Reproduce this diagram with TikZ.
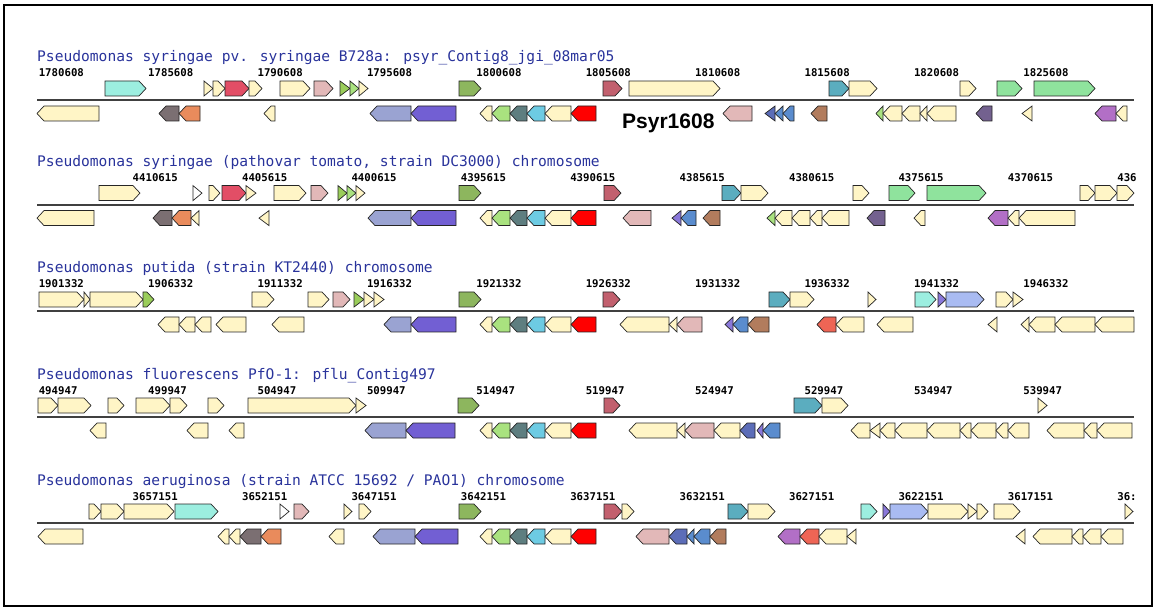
\documentclass[tikz,border=0pt]{standalone}
\usepackage{fontspec}
\usepackage{tikz}
\newfontfamily\monofont{DejaVu Sans Mono}
\newfontfamily\labelfont{Liberation Sans}
\newcommand{\trackfont}{\monofont\fontsize{14.6}{16}\selectfont}
\newcommand{\coordfont}{\monofont\bfseries\fontsize{10.7}{12}\selectfont}
\definecolor{titleblue}{HTML}{29339B}
\definecolor{cream}{HTML}{FFF5C6}
\definecolor{aqua}{HTML}{9CEEE0}
\definecolor{crimson}{HTML}{E24E66}
\definecolor{pinklt}{HTML}{E2B8B8}
\definecolor{green}{HTML}{9ACD5A}
\definecolor{lgreen}{HTML}{A9E27F}
\definecolor{olive}{HTML}{8DB65E}
\definecolor{rose}{HTML}{C2606E}
\definecolor{graybrown}{HTML}{7B6F72}
\definecolor{orange}{HTML}{E98B5C}
\definecolor{periw}{HTML}{9AA3D2}
\definecolor{purple}{HTML}{725FD3}
\definecolor{slate}{HTML}{5E7E80}
\definecolor{sky}{HTML}{6DCBE3}
\definecolor{red}{HTML}{FF0000}
\definecolor{teal}{HTML}{5BADBF}
\definecolor{pgreen}{HTML}{8FE39D}
\definecolor{dpurple}{HTML}{73618F}
\definecolor{orchid}{HTML}{B26FC6}
\definecolor{sblue}{HTML}{5A8CCE}
\definecolor{dblue}{HTML}{5C6DB8}
\definecolor{brown}{HTML}{B27C5D}
\definecolor{tomato}{HTML}{EE6555}
\definecolor{cflower}{HTML}{A9BBF2}
\definecolor{mpurple}{HTML}{8A78DA}

% genes above the line point right, genes below point left
\newcommand{\fwdgene}[3]{%
  \pgfmathsetmacro\tiplen{(#2-#1)<11 ? (#2-#1) : 7}%
  \draw[gene,fill=#3] (#1,\ax-19) -- ({#2-\tiplen},\ax-19) -- (#2,\ax-11.5)
    -- ({#2-\tiplen},\ax-4) -- (#1,\ax-4) -- cycle;}
\newcommand{\revgene}[3]{%
  \pgfmathsetmacro\tiplen{(#2-#1)<11 ? (#2-#1) : 7}%
  \draw[gene,fill=#3] (#2,\ax+6) -- ({#1+\tiplen},\ax+6) -- (#1,\ax+13.5)
    -- ({#1+\tiplen},\ax+21) -- (#2,\ax+21) -- cycle;}
\newcommand{\clusterlist}{480/492/cream,492/510/lgreen,510/527/slate,527/545/sky,545/571/cream,571/596/red}

\begin{document}
\begin{tikzpicture}[x=1pt,y=-1pt,
  gene/.style={draw=black!85,line width=0.7pt},
  axisline/.style={draw=black!75,line width=2pt},
  title/.style={anchor=base west,inner sep=0pt,text=titleblue,font=\trackfont},
  tick/.style={anchor=base west,inner sep=0pt,font=\coordfont}
]
\useasboundingbox (0,0) rectangle (1156,609);
\draw[line width=2pt] (4,5) rectangle (1152,606);

% track 1
\def\ax{100}
\node[title] (t1) at (37,\ax-38) {Pseudomonas syringae pv. syringae B728a: psyr\_Contig8\_jgi\_08mar05};
\foreach \k/\num in {0/1780608,1/1785608,2/1790608,3/1795608,4/1800608,5/1805608,6/1810608,7/1815608,8/1820608,9/1825608}
  \node[tick] (c1\k) at (38.6+109.4*\k,\ax-23) {\num};
\draw[axisline] (37,\ax) -- (1134,\ax);
\foreach \xa/\xb/\col in {105/146/aqua,204/213/cream,213/225/cream,225/249/crimson,249/262/cream,
  280/310/cream,314/333/pinklt,340/350/green,350/359/lgreen,359/368/cream,459/481/olive,
  603/622/rose,629/720/cream,829/849/teal,849/877/cream,960/976/cream,997/1022/pgreen,1034/1095/pgreen}
  \fwdgene{\xa}{\xb}{\col};
\foreach \xa/\xb/\col in {37/99/cream,159/179/graybrown,179/200/orange,264/275/cream,370/411/periw,411/456/purple,
  723/752/pinklt,765/775/dblue,775/783/sblue,783/794/sblue,811/827/brown,
  876/883/lgreen,883/902/cream,902/920/cream,920/927/cream,927/956/cream,
  976/992/dpurple,1022/1032/cream,1095/1116/orchid,1116/1127/cream}
  \revgene{\xa}{\xb}{\col};
\foreach \xa/\xb/\col in \clusterlist \revgene{\xa}{\xb}{\col};
\node[anchor=base west,inner sep=0pt,font=\labelfont\bfseries\fontsize{21}{24}\selectfont] (psyr) at (622,129) {Psyr1608};

% track 2
\def\ax{204.6}
\node[title] (t2) at (37,\ax-38) {Pseudomonas syringae (pathovar tomato, strain DC3000) chromosome};
\foreach \k/\num in {0/4410615,1/4405615,2/4400615,3/4395615,4/4390615,5/4385615,6/4380615,7/4375615,8/4370615,9/436}
  \node[tick] (c2\k) at (132.5+109.4*\k,\ax-23) {\num};
\draw[axisline] (37,\ax) -- (1134,\ax);
\foreach \xa/\xb/\col in {99/140/cream,209/220/cream,222/246/crimson,246/256/cream,
  274/306/cream,311/328/pinklt,338/347/green,347/356/lgreen,356/365/cream,459/481/olive,
  604/621/rose,722/741/teal,741/768/cream,853/869/cream,889/915/pgreen,927/986/pgreen,
  1080/1095/cream,1095/1117/cream,1117/1134/cream}
  \fwdgene{\xa}{\xb}{\col};
\begin{scope}[line width=1.3pt]
\fwdgene{193}{202}{white}
\end{scope}
\foreach \xa/\xb/\col in {37/94/cream,153/172/graybrown,172/191/orange,191/199/cream,259/269/cream,
  368/411/periw,411/456/purple,623/651/pinklt,672/681/mpurple,681/696/sblue,703/720/brown,
  767/775/lgreen,775/792/cream,792/810/cream,810/822/cream,822/849/cream,867/885/dpurple,
  914/925/cream,988/1008/orchid,1008/1019/cream,1019/1075/cream}
  \revgene{\xa}{\xb}{\col};
\foreach \xa/\xb/\col in \clusterlist \revgene{\xa}{\xb}{\col};

% track 3
\def\ax{311}
\node[title] (t3) at (37,\ax-38) {Pseudomonas putida (strain KT2440) chromosome};
\foreach \k/\num in {0/1901332,1/1906332,2/1911332,3/1916332,4/1921332,5/1926332,6/1931332,7/1936332,8/1941332,9/1946332}
  \node[tick] (c3\k) at (38.6+109.4*\k,\ax-23) {\num};
\draw[axisline] (37,\ax) -- (1134,\ax);
\foreach \xa/\xb/\col in {39/84/cream,84/90/cream,90/143/cream,143/154/green,252/274/cream,
  308/329/cream,333/350/pinklt,354/364/green,364/374/cream,374/384/cream,459/481/olive,
  603/620/rose,769/790/teal,790/814/cream,868/876/cream,915/936/aqua,938/946/mpurple,946/984/cflower,
  996/1013/cream,1013/1023/cream}
  \fwdgene{\xa}{\xb}{\col};
\foreach \xa/\xb/\col in {158/179/cream,179/195/cream,195/211/cream,216/246/cream,272/304/cream,
  384/411/periw,411/456/purple,620/669/cream,669/677/cream,677/702/pinklt,
  725/733/mpurple,733/748/sblue,748/769/brown,817/836/tomato,836/864/cream,877/913/cream,
  988/997/cream,1021/1029/cream,1029/1055/cream,1055/1095/cream,1095/1134/cream}
  \revgene{\xa}{\xb}{\col};
\foreach \xa/\xb/\col in \clusterlist \revgene{\xa}{\xb}{\col};

% track 4
\def\ax{417}
\node[title] (t4) at (37,\ax-38) {Pseudomonas fluorescens PfO-1: pflu\_Contig497};
\foreach \k/\num in {0/494947,1/499947,2/504947,3/509947,4/514947,5/519947,6/524947,7/529947,8/534947,9/539947}
  \node[tick] (c4\k) at (38.6+109.4*\k,\ax-23) {\num};
\draw[axisline] (37,\ax) -- (1134,\ax);
\foreach \xa/\xb/\col in {38/58/cream,58/91/cream,108/124/cream,136/170/cream,170/187/cream,208/224/cream,
  248/356/cream,356/366/cream,458/479/olive,604/620/rose,794/822/teal,822/848/cream,1038/1047/cream}
  \fwdgene{\xa}{\xb}{\col};
\foreach \xa/\xb/\col in {90/106/cream,187/208/cream,229/244/cream,365/406/periw,406/455/purple,
  629/677/cream,677/685/cream,685/714/pinklt,714/740/cream,740/755/dblue,757/763/mpurple,763/780/sblue,
  851/870/cream,870/880/cream,880/895/cream,895/927/cream,927/960/cream,960/971/cream,971/996/cream,
  996/1008/cream,1008/1029/cream,1047/1084/cream,1084/1097/cream,1097/1132/cream}
  \revgene{\xa}{\xb}{\col};
\foreach \xa/\xb/\col in \clusterlist \revgene{\xa}{\xb}{\col};

% track 5
\def\ax{523}
\node[title] (t5) at (37,\ax-38) {Pseudomonas aeruginosa (strain ATCC 15692 / PAO1) chromosome};
\foreach \k/\num in {0/3657151,1/3652151,2/3647151,3/3642151,4/3637151,5/3632151,6/3627151,7/3622151,8/3617151,9/36:}
  \node[tick] (c5\k) at (132.5+109.4*\k,\ax-23) {\num};
\draw[axisline] (37,\ax) -- (1134,\ax);
\foreach \xa/\xb/\col in {89/101/cream,101/124/cream,124/174/cream,175/218/aqua,294/309/pinklt,
  344/352/cream,359/371/cream,459/481/olive,604/622/rose,622/634/cream,728/748/teal,748/775/cream,
  861/877/aqua,883/890/mpurple,890/928/cflower,928/968/cream,968/977/cream,977/988/cream,994/1020/cream,1125/1133/cream}
  \fwdgene{\xa}{\xb}{\col};
\begin{scope}[line width=1.3pt]
\fwdgene{280}{289}{white}
\end{scope}
\foreach \xa/\xb/\col in {38/83/cream,218/229/cream,229/240/cream,240/261/graybrown,261/281/orange,329/344/cream,
  373/415/periw,415/458/purple,636/669/pinklt,669/687/dblue,687/694/sblue,694/710/sblue,710/726/brown,
  778/800/orchid,800/819/tomato,819/847/cream,847/856/cream,
  1016/1025/cream,1033/1072/cream,1072/1083/cream,1083/1101/cream,1101/1123/cream}
  \revgene{\xa}{\xb}{\col};
\foreach \xa/\xb/\col in \clusterlist \revgene{\xa}{\xb}{\col};
\end{tikzpicture}
\end{document}
